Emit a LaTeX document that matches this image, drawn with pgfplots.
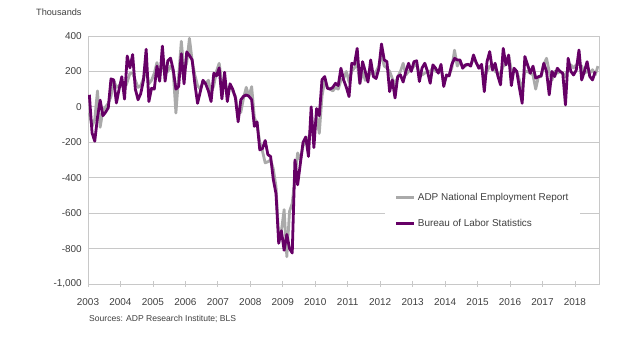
\documentclass[border=0pt]{standalone}
\usepackage{pgfplots}
\pgfplotsset{compat=1.18}
\usepackage{pgfplotstable}
\usepackage{fontspec}
\setmainfont{Liberation Sans}
\definecolor{blspurple}{RGB}{102,0,102}
\definecolor{adpgray}{RGB}{170,170,170}
\definecolor{gridgray}{RGB}{200,200,200}
\definecolor{txt}{RGB}{64,64,64}

% BLS private payroll change, thousands, Jan 2003 - Aug 2018
\pgfplotstableread[row sep=\\]{
v\\
68\\ -147\\ -194\\ -60\\ 38\\ -50\\ -30\\ -5\\ 158\\ 152\\ 22\\ 100\\
170\\ 44\\ 287\\ 220\\ 295\\ 100\\ 40\\ 75\\ 150\\ 325\\ 30\\ 105\\
100\\ 230\\ 145\\ 343\\ 145\\ 260\\ 275\\ 210\\ 100\\ 115\\ 300\\ 130\\
310\\ 290\\ 265\\ 130\\ 20\\ 85\\ 150\\ 130\\ 90\\ 30\\ 190\\ 175\\
220\\ 45\\ 195\\ 30\\ 130\\ 100\\ 50\\ -84\\ 40\\ 60\\ 67\\ 60\\
40\\ -110\\ -85\\ -243\\ -235\\ -190\\ -270\\ -280\\ -410\\ -490\\ -770\\ -700\\
-810\\ -720\\ -800\\ -825\\ -300\\ -440\\ -320\\ -200\\ -170\\ -280\\ 0\\ -230\\
-10\\ -50\\ 153\\ 171\\ 105\\ 100\\ 110\\ 133\\ 120\\ 218\\ 152\\ 110\\
58\\ 246\\ 240\\ 330\\ 133\\ 255\\ 200\\ 140\\ 265\\ 171\\ 160\\ 215\\
355\\ 265\\ 255\\ 86\\ 152\\ 50\\ 171\\ 180\\ 140\\ 200\\ 246\\ 200\\
255\\ 260\\ 143\\ 220\\ 246\\ 200\\ 133\\ 237\\ 218\\ 190\\ 240\\ 115\\
180\\ 175\\ 240\\ 274\\ 265\\ 265\\ 218\\ 237\\ 240\\ 230\\ 293\\ 250\\
218\\ 240\\ 86\\ 255\\ 312\\ 208\\ 246\\ 175\\ 124\\ 330\\ 237\\ 293\\
120\\ 218\\ 200\\ 105\\ 20\\ 284\\ 237\\ 190\\ 230\\ 162\\ 170\\ 175\\
246\\ 200\\ 68\\ 200\\ 171\\ 218\\ 200\\ 190\\ 11\\ 274\\ 200\\ 180\\
208\\ 321\\ 152\\ 200\\ 255\\ 171\\ 152\\ 200\\
}\bls

% ADP National Employment Report, thousands, Jan 2003 - Sep 2018
\pgfplotstableread[row sep=\\]{
v\\
-35\\ -110\\ -70\\ 90\\ -115\\ -20\\ 0\\ 20\\ 60\\ 150\\ 110\\ 120\\
130\\ 100\\ 140\\ 190\\ 190\\ 150\\ 110\\ 120\\ 160\\ 210\\ 130\\ 150\\
190\\ 250\\ 170\\ 240\\ 210\\ 200\\ 230\\ 200\\ -35\\ 170\\ 370\\ 200\\
250\\ 387\\ 260\\ 180\\ 120\\ 100\\ 140\\ 130\\ 150\\ 80\\ 120\\ 200\\
246\\ 130\\ 150\\ 80\\ 120\\ 90\\ 60\\ -40\\ -30\\ 50\\ 110\\ 60\\
114\\ -60\\ -100\\ -200\\ -250\\ -316\\ -310\\ -300\\ -350\\ -450\\ -740\\ -700\\
-580\\ -846\\ -590\\ -545\\ -400\\ -260\\ -300\\ -220\\ -200\\ -180\\ -120\\ -150\\
-50\\ -150\\ 60\\ 150\\ 110\\ 100\\ 90\\ 110\\ 100\\ 150\\ 160\\ 200\\
140\\ 200\\ 220\\ 250\\ 130\\ 200\\ 150\\ 160\\ 200\\ 180\\ 200\\ 230\\
300\\ 230\\ 220\\ 200\\ 160\\ 125\\ 170\\ 200\\ 246\\ 180\\ 200\\ 210\\
230\\ 240\\ 190\\ 180\\ 190\\ 200\\ 200\\ 220\\ 200\\ 200\\ 220\\ 133\\
170\\ 180\\ 220\\ 320\\ 230\\ 260\\ 230\\ 230\\ 240\\ 240\\ 270\\ 250\\
220\\ 230\\ 170\\ 200\\ 230\\ 230\\ 200\\ 190\\ 190\\ 230\\ 240\\ 284\\
210\\ 200\\ 200\\ 150\\ 95\\ 200\\ 200\\ 190\\ 180\\ 100\\ 170\\ 170\\
240\\ 274\\ 200\\ 150\\ 200\\ 190\\ 200\\ 190\\ 170\\ 220\\ 237\\ 220\\
237\\ 240\\ 230\\ 190\\ 200\\ 190\\ 210\\ 180\\ 230\\
}\adp

\begin{document}
\begin{tikzpicture}
\path[use as bounding box, fill=white] (0,0) rectangle (631bp,354bp);
\begin{axis}[
  at={(88bp,70bp)}, anchor=south west,
  scale only axis, width=511bp, height=248bp,
  xmin=-0.5, xmax=188.4, ymin=-1000, ymax=400,
  xtick={-0.5,11.5,...,179.5},
  xticklabels={2003,2004,2005,2006,2007,2008,2009,2010,2011,2012,2013,2014,2015,2016,2017,2018},
  ytick={-1000,-800,...,400},
  yticklabels={{-1,000},-800,-600,-400,-200,0,200,400},
  xtick pos=bottom, ytick pos=left,
  ymajorgrids,
  major grid style={draw=gridgray, line width=0.8bp},
  axis line style={draw=gridgray, line width=0.8bp},
  xtick style={draw=gridgray, line width=0.8bp},
  ytick style={draw=none},
  major tick length=6bp, xtick align=center,
  tick label style={font=\fontsize{10}{12}\selectfont, text=txt},
  xticklabel style={yshift=-8bp},
  yticklabel style={xshift=-2.7bp},
  legend cell align=left,
  legend style={at={(0.581,0.411)}, anchor=north west, draw=none, fill=white,
    font=\fontsize{10}{12}\selectfont, text=txt, inner xsep=10bp, inner ysep=9bp,
    row sep=13bp},
  legend image code/.code={\draw[#1] (0bp,0bp) -- (18bp,0bp);},
]
\addplot[adpgray, line width=2.8bp, line join=round] table[x expr=\coordindex, y=v] {\adp};
\addlegendentry{ADP National Employment Report}
\addplot[blspurple, line width=2.8bp, line join=round] table[x expr=\coordindex, y=v] {\bls};
\addlegendentry{Bureau of Labor Statistics}
\end{axis}
\node[anchor=west, font=\fontsize{9.2}{11}\selectfont, text=txt, inner sep=0] at (36bp,342bp) {Thousands};
\node[anchor=west, font=\fontsize{8.6}{10}\selectfont, text=txt, inner sep=0] at (89bp,34.7bp) {Sources: ADP Research Institute; BLS};
\end{tikzpicture}
\end{document}
